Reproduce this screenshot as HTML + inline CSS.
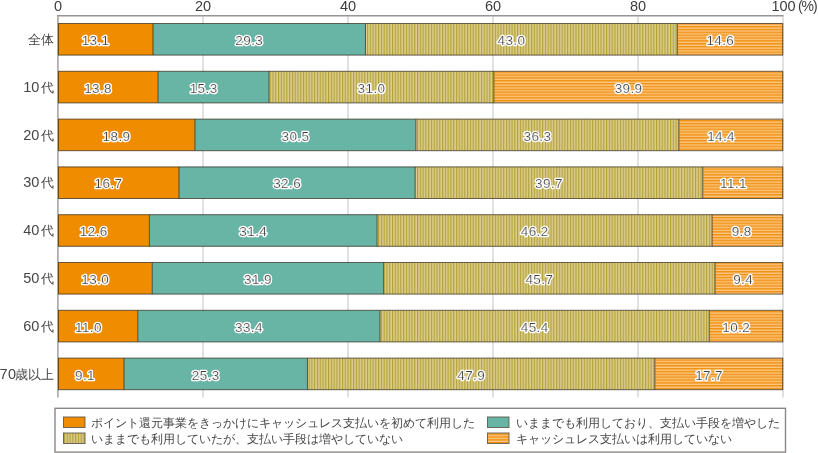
<!DOCTYPE html>
<html lang="ja"><head><meta charset="utf-8"><title>chart</title>
<style>html,body{margin:0;padding:0;background:#fff;}body{width:818px;height:453px;overflow:hidden;}svg{display:block;will-change:transform;font-family:"Liberation Sans",sans-serif;}.vh,.vt{font-size:13.5px;letter-spacing:0.4px;text-anchor:end;}.vh{fill:#fff;stroke:#fff;stroke-width:2.7px;stroke-linejoin:round;}.vt{fill:#404040;stroke:#fff;stroke-width:0.2px;}</style></head><body>
<svg width="818" height="453" viewBox="0 0 818 453">
<defs>
<pattern id="pv" patternUnits="userSpaceOnUse" width="2.78" height="10" x="0" y="0"><rect width="2.78" height="10" fill="#c4b258"/><rect x="0" width="1.0" height="10" fill="#b5a036"/><rect x="1.45" width="1.05" height="10" fill="#e2d9a6"/></pattern>
<pattern id="ph" patternUnits="userSpaceOnUse" width="10" height="2.85" x="0" y="0.3"><rect width="10" height="2.85" fill="#fac586"/><rect y="0" width="10" height="1.45" fill="#f1920f"/></pattern>
</defs>
<rect width="818" height="453" fill="#fff"/>
<line x1="203" y1="15" x2="203" y2="397.5" stroke="#d6d4d4" stroke-width="1.4"/>
<line x1="348" y1="15" x2="348" y2="397.5" stroke="#d6d4d4" stroke-width="1.4"/>
<line x1="493" y1="15" x2="493" y2="397.5" stroke="#d6d4d4" stroke-width="1.4"/>
<line x1="638" y1="15" x2="638" y2="397.5" stroke="#d6d4d4" stroke-width="1.4"/>
<line x1="783" y1="15" x2="783" y2="397.5" stroke="#d6d4d4" stroke-width="1.4"/>
<line x1="57.9" y1="15" x2="57.9" y2="397.5" stroke="#aaa5a3" stroke-width="1.6"/>
<line x1="57" y1="15.8" x2="783.5" y2="15.8" stroke="#9a9492" stroke-width="1.4"/>
<text x="58" y="11" font-size="14.5" fill="#3c3c3c" text-anchor="middle">0</text>
<text x="203" y="11" font-size="14.5" fill="#3c3c3c" text-anchor="middle">20</text>
<text x="348" y="11" font-size="14.5" fill="#3c3c3c" text-anchor="middle">40</text>
<text x="493" y="11" font-size="14.5" fill="#3c3c3c" text-anchor="middle">60</text>
<text x="638" y="11" font-size="14.5" fill="#3c3c3c" text-anchor="middle">80</text>
<text x="783.5" y="11" font-size="14.5" fill="#3c3c3c" text-anchor="middle">100</text>
<text x="798.0" y="10.6" font-size="14" letter-spacing="-1.1" fill="#3c3c3c">(%)</text>
<text x="27.5 40.5" y="44.00" font-size="13" fill="#464646">全体</text>
<rect x="58.00" y="23.50" width="95.00" height="31.6" fill="#f08c00"/>
<rect x="153.00" y="23.50" width="212.48" height="31.6" fill="#68b4a5"/>
<rect x="365.48" y="23.50" width="311.84" height="31.6" fill="url(#pv)"/>
<rect x="677.32" y="23.50" width="105.88" height="31.6" fill="url(#ph)"/>
<rect x="58.50" y="23.50" width="724.20" height="31.6" fill="none" stroke="#2e2618" stroke-opacity="0.7" stroke-width="1"/>
<line x1="153.00" y1="23.50" x2="153.00" y2="55.10" stroke="#2e2618" stroke-opacity="0.7" stroke-width="1"/>
<line x1="365.48" y1="23.50" x2="365.48" y2="55.10" stroke="#2e2618" stroke-opacity="0.7" stroke-width="1"/>
<line x1="677.32" y1="23.50" x2="677.32" y2="55.10" stroke="#2e2618" stroke-opacity="0.7" stroke-width="1"/>
<text x="109.50" y="45.00" class="vh">13.1</text><text x="109.50" y="45.00" class="vt">13.1</text>
<text x="263.24" y="45.00" class="vh">29.3</text><text x="263.24" y="45.00" class="vt">29.3</text>
<text x="525.40" y="45.00" class="vh">43.0</text><text x="525.40" y="45.00" class="vt">43.0</text>
<text x="734.26" y="45.00" class="vh">14.6</text><text x="734.26" y="45.00" class="vt">14.6</text>
<text x="23.2 31.2 40.5" y="91.80" font-size="13" fill="#464646"><tspan font-size="14.5">10</tspan>代</text>
<rect x="58.00" y="71.30" width="100.08" height="31.6" fill="#f08c00"/>
<rect x="158.08" y="71.30" width="110.96" height="31.6" fill="#68b4a5"/>
<rect x="269.03" y="71.30" width="224.81" height="31.6" fill="url(#pv)"/>
<rect x="493.85" y="71.30" width="289.35" height="31.6" fill="url(#ph)"/>
<rect x="58.50" y="71.30" width="724.20" height="31.6" fill="none" stroke="#2e2618" stroke-opacity="0.7" stroke-width="1"/>
<line x1="158.08" y1="71.30" x2="158.08" y2="102.90" stroke="#2e2618" stroke-opacity="0.7" stroke-width="1"/>
<line x1="269.03" y1="71.30" x2="269.03" y2="102.90" stroke="#2e2618" stroke-opacity="0.7" stroke-width="1"/>
<line x1="493.85" y1="71.30" x2="493.85" y2="102.90" stroke="#2e2618" stroke-opacity="0.7" stroke-width="1"/>
<text x="112.04" y="92.80" class="vh">13.8</text><text x="112.04" y="92.80" class="vt">13.8</text>
<text x="217.56" y="92.80" class="vh">15.3</text><text x="217.56" y="92.80" class="vt">15.3</text>
<text x="385.44" y="92.80" class="vh">31.0</text><text x="385.44" y="92.80" class="vt">31.0</text>
<text x="642.52" y="92.80" class="vh">39.9</text><text x="642.52" y="92.80" class="vt">39.9</text>
<text x="23.2 31.2 40.5" y="139.60" font-size="13" fill="#464646"><tspan font-size="14.5">20</tspan>代</text>
<rect x="58.00" y="119.10" width="136.93" height="31.6" fill="#f08c00"/>
<rect x="194.93" y="119.10" width="220.97" height="31.6" fill="#68b4a5"/>
<rect x="415.89" y="119.10" width="262.98" height="31.6" fill="url(#pv)"/>
<rect x="678.88" y="119.10" width="104.32" height="31.6" fill="url(#ph)"/>
<rect x="58.50" y="119.10" width="724.20" height="31.6" fill="none" stroke="#2e2618" stroke-opacity="0.7" stroke-width="1"/>
<line x1="194.93" y1="119.10" x2="194.93" y2="150.70" stroke="#2e2618" stroke-opacity="0.7" stroke-width="1"/>
<line x1="415.89" y1="119.10" x2="415.89" y2="150.70" stroke="#2e2618" stroke-opacity="0.7" stroke-width="1"/>
<line x1="678.88" y1="119.10" x2="678.88" y2="150.70" stroke="#2e2618" stroke-opacity="0.7" stroke-width="1"/>
<text x="130.46" y="140.60" class="vh">18.9</text><text x="130.46" y="140.60" class="vt">18.9</text>
<text x="309.41" y="140.60" class="vh">30.5</text><text x="309.41" y="140.60" class="vt">30.5</text>
<text x="551.38" y="140.60" class="vh">36.3</text><text x="551.38" y="140.60" class="vt">36.3</text>
<text x="735.04" y="140.60" class="vh">14.4</text><text x="735.04" y="140.60" class="vt">14.4</text>
<text x="23.2 31.2 40.5" y="187.40" font-size="13" fill="#464646"><tspan font-size="14.5">30</tspan>代</text>
<rect x="58.00" y="166.90" width="120.99" height="31.6" fill="#f08c00"/>
<rect x="178.99" y="166.90" width="236.18" height="31.6" fill="#68b4a5"/>
<rect x="415.17" y="166.90" width="287.62" height="31.6" fill="url(#pv)"/>
<rect x="702.78" y="166.90" width="80.42" height="31.6" fill="url(#ph)"/>
<rect x="58.50" y="166.90" width="724.20" height="31.6" fill="none" stroke="#2e2618" stroke-opacity="0.7" stroke-width="1"/>
<line x1="178.99" y1="166.90" x2="178.99" y2="198.50" stroke="#2e2618" stroke-opacity="0.7" stroke-width="1"/>
<line x1="415.17" y1="166.90" x2="415.17" y2="198.50" stroke="#2e2618" stroke-opacity="0.7" stroke-width="1"/>
<line x1="702.78" y1="166.90" x2="702.78" y2="198.50" stroke="#2e2618" stroke-opacity="0.7" stroke-width="1"/>
<text x="122.49" y="188.40" class="vh">16.7</text><text x="122.49" y="188.40" class="vt">16.7</text>
<text x="301.08" y="188.40" class="vh">32.6</text><text x="301.08" y="188.40" class="vt">32.6</text>
<text x="562.97" y="188.40" class="vh">39.7</text><text x="562.97" y="188.40" class="vt">39.7</text>
<text x="746.99" y="188.40" class="vh">11.1</text><text x="746.99" y="188.40" class="vt">11.1</text>
<text x="23.2 31.2 40.5" y="235.20" font-size="13" fill="#464646"><tspan font-size="14.5">40</tspan>代</text>
<rect x="58.00" y="214.70" width="91.38" height="31.6" fill="#f08c00"/>
<rect x="149.38" y="214.70" width="227.71" height="31.6" fill="#68b4a5"/>
<rect x="377.09" y="214.70" width="335.04" height="31.6" fill="url(#pv)"/>
<rect x="712.13" y="214.70" width="71.07" height="31.6" fill="url(#ph)"/>
<rect x="58.50" y="214.70" width="724.20" height="31.6" fill="none" stroke="#2e2618" stroke-opacity="0.7" stroke-width="1"/>
<line x1="149.38" y1="214.70" x2="149.38" y2="246.30" stroke="#2e2618" stroke-opacity="0.7" stroke-width="1"/>
<line x1="377.09" y1="214.70" x2="377.09" y2="246.30" stroke="#2e2618" stroke-opacity="0.7" stroke-width="1"/>
<line x1="712.13" y1="214.70" x2="712.13" y2="246.30" stroke="#2e2618" stroke-opacity="0.7" stroke-width="1"/>
<text x="107.69" y="236.20" class="vh">12.6</text><text x="107.69" y="236.20" class="vt">12.6</text>
<text x="267.23" y="236.20" class="vh">31.4</text><text x="267.23" y="236.20" class="vt">31.4</text>
<text x="548.61" y="236.20" class="vh">46.2</text><text x="548.61" y="236.20" class="vt">46.2</text>
<text x="751.67" y="236.20" class="vh">9.8</text><text x="751.67" y="236.20" class="vt">9.8</text>
<text x="23.2 31.2 40.5" y="283.00" font-size="13" fill="#464646"><tspan font-size="14.5">50</tspan>代</text>
<rect x="58.00" y="262.50" width="94.28" height="31.6" fill="#f08c00"/>
<rect x="152.28" y="262.50" width="231.34" height="31.6" fill="#68b4a5"/>
<rect x="383.61" y="262.50" width="331.42" height="31.6" fill="url(#pv)"/>
<rect x="715.03" y="262.50" width="68.17" height="31.6" fill="url(#ph)"/>
<rect x="58.50" y="262.50" width="724.20" height="31.6" fill="none" stroke="#2e2618" stroke-opacity="0.7" stroke-width="1"/>
<line x1="152.28" y1="262.50" x2="152.28" y2="294.10" stroke="#2e2618" stroke-opacity="0.7" stroke-width="1"/>
<line x1="383.61" y1="262.50" x2="383.61" y2="294.10" stroke="#2e2618" stroke-opacity="0.7" stroke-width="1"/>
<line x1="715.03" y1="262.50" x2="715.03" y2="294.10" stroke="#2e2618" stroke-opacity="0.7" stroke-width="1"/>
<text x="109.14" y="284.00" class="vh">13.0</text><text x="109.14" y="284.00" class="vt">13.0</text>
<text x="271.95" y="284.00" class="vh">31.9</text><text x="271.95" y="284.00" class="vt">31.9</text>
<text x="553.32" y="284.00" class="vh">45.7</text><text x="553.32" y="284.00" class="vt">45.7</text>
<text x="753.12" y="284.00" class="vh">9.4</text><text x="753.12" y="284.00" class="vt">9.4</text>
<text x="23.2 31.2 40.5" y="330.80" font-size="13" fill="#464646"><tspan font-size="14.5">60</tspan>代</text>
<rect x="58.00" y="310.30" width="79.77" height="31.6" fill="#f08c00"/>
<rect x="137.77" y="310.30" width="242.22" height="31.6" fill="#68b4a5"/>
<rect x="379.99" y="310.30" width="329.24" height="31.6" fill="url(#pv)"/>
<rect x="709.23" y="310.30" width="73.97" height="31.6" fill="url(#ph)"/>
<rect x="58.50" y="310.30" width="724.20" height="31.6" fill="none" stroke="#2e2618" stroke-opacity="0.7" stroke-width="1"/>
<line x1="137.77" y1="310.30" x2="137.77" y2="341.90" stroke="#2e2618" stroke-opacity="0.7" stroke-width="1"/>
<line x1="379.99" y1="310.30" x2="379.99" y2="341.90" stroke="#2e2618" stroke-opacity="0.7" stroke-width="1"/>
<line x1="709.23" y1="310.30" x2="709.23" y2="341.90" stroke="#2e2618" stroke-opacity="0.7" stroke-width="1"/>
<text x="101.89" y="331.80" class="vh">11.0</text><text x="101.89" y="331.80" class="vt">11.0</text>
<text x="262.88" y="331.80" class="vh">33.4</text><text x="262.88" y="331.80" class="vt">33.4</text>
<text x="548.61" y="331.80" class="vh">45.4</text><text x="548.61" y="331.80" class="vt">45.4</text>
<text x="750.21" y="331.80" class="vh">10.2</text><text x="750.21" y="331.80" class="vt">10.2</text>
<text x="-0.6 7.9 14.5 27.5 40.5" y="378.60" font-size="13" fill="#464646"><tspan font-size="14.5">70</tspan>歳以上</text>
<rect x="58.00" y="358.10" width="65.99" height="31.6" fill="#f08c00"/>
<rect x="123.99" y="358.10" width="183.48" height="31.6" fill="#68b4a5"/>
<rect x="307.47" y="358.10" width="347.37" height="31.6" fill="url(#pv)"/>
<rect x="654.84" y="358.10" width="128.36" height="31.6" fill="url(#ph)"/>
<rect x="58.50" y="358.10" width="724.20" height="31.6" fill="none" stroke="#2e2618" stroke-opacity="0.7" stroke-width="1"/>
<line x1="123.99" y1="358.10" x2="123.99" y2="389.70" stroke="#2e2618" stroke-opacity="0.7" stroke-width="1"/>
<line x1="307.47" y1="358.10" x2="307.47" y2="389.70" stroke="#2e2618" stroke-opacity="0.7" stroke-width="1"/>
<line x1="654.84" y1="358.10" x2="654.84" y2="389.70" stroke="#2e2618" stroke-opacity="0.7" stroke-width="1"/>
<text x="95.00" y="379.60" class="vh">9.1</text><text x="95.00" y="379.60" class="vt">9.1</text>
<text x="219.73" y="379.60" class="vh">25.3</text><text x="219.73" y="379.60" class="vt">25.3</text>
<text x="485.15" y="379.60" class="vh">47.9</text><text x="485.15" y="379.60" class="vt">47.9</text>
<text x="723.02" y="379.60" class="vh">17.7</text><text x="723.02" y="379.60" class="vt">17.7</text>
<rect x="55" y="408.3" width="730.5" height="43.8" fill="#fff" stroke="#8c8786" stroke-width="1.4"/>
<rect x="63.5" y="417" width="21.5" height="10.5" fill="#f08c00" stroke="#5a5048" stroke-opacity="0.85" stroke-width="1"/>
<text x="91 103 115 127 139 151 163 175 187 199 211 223 235 247 259 271 283 295 307 319 331 343 355 367 379 391 403 415 427 439 451 463" y="426.5" font-size="12" fill="#464646">ポイント還元事業をきっかけにキャッシュレス支払いを初めて利用した</text>
<rect x="487.5" y="417" width="21.5" height="10.5" fill="#68b4a5" stroke="#5a5048" stroke-opacity="0.85" stroke-width="1"/>
<text x="515.5 527.5 539.5 551.5 563.5 575.5 587.5 599.5 611.5 623.5 635.5 647.5 659.5 671.5 683.5 695.5 707.5 719.5 731.5 743.5 755.5 767.5" y="426.5" font-size="12" fill="#464646">いままでも利用しており、支払い手段を増やした</text>
<rect x="63.5" y="433" width="21.5" height="10.5" fill="url(#pv)" stroke="#5a5048" stroke-opacity="0.85" stroke-width="1"/>
<text x="91 103 115 127 139 151 163 175 187 199 211 223 235 247 259 271 283 295 307 319 331 343 355 367 379 391" y="442.5" font-size="12" fill="#464646">いままでも利用していたが、支払い手段は増やしていない</text>
<rect x="487.5" y="433" width="21.5" height="10.5" fill="url(#ph)" stroke="#5a5048" stroke-opacity="0.85" stroke-width="1"/>
<text x="515.5 527.5 539.5 551.5 563.5 575.5 587.5 599.5 611.5 623.5 635.5 647.5 659.5 671.5 683.5 695.5 707.5 719.5" y="442.5" font-size="12" fill="#464646">キャッシュレス支払いは利用していない</text>
</svg></body></html>
